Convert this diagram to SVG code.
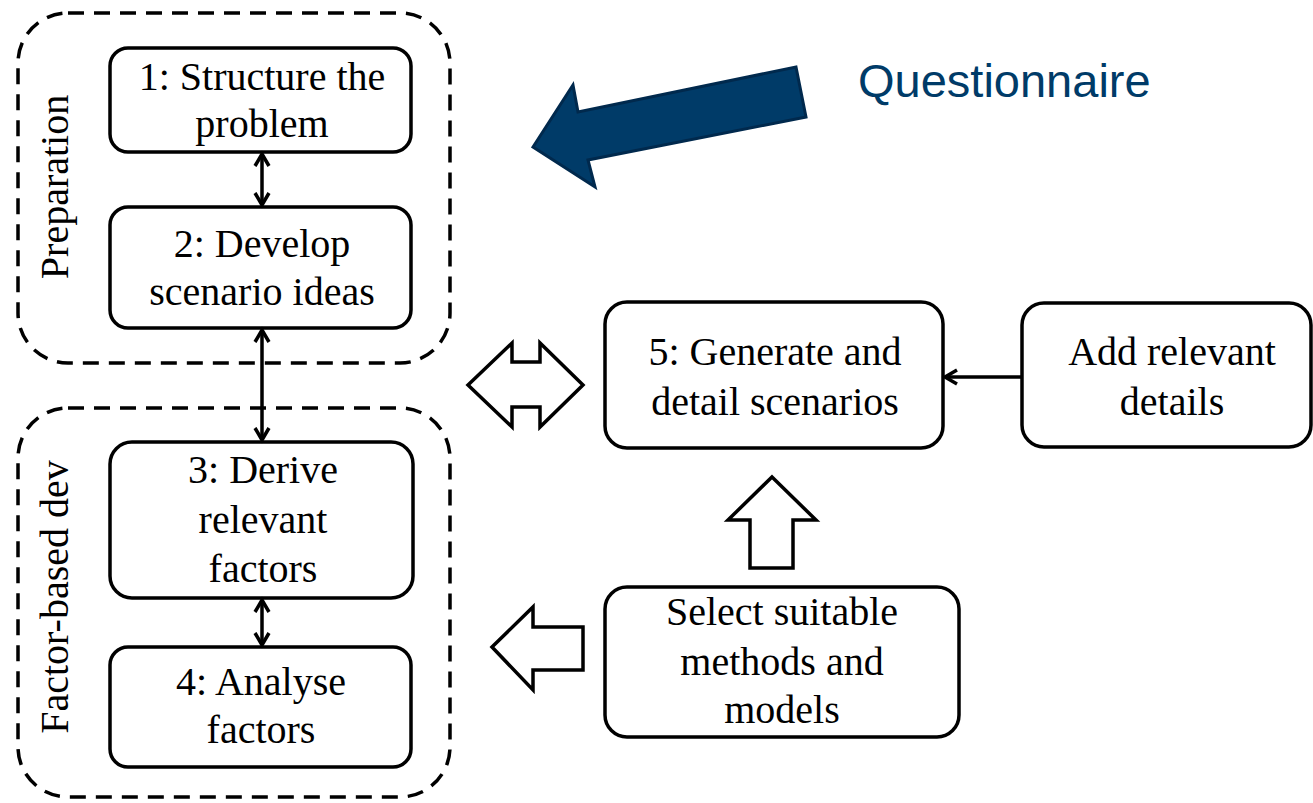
<svg xmlns="http://www.w3.org/2000/svg" width="1313" height="803" viewBox="0 0 1313 803">
<style>
.grp{fill:none;stroke:#000;stroke-width:3.5;stroke-dasharray:16 10}
.box{fill:#fff;stroke:#000;stroke-width:3.5}
.t{font-family:"Liberation Serif","Times New Roman",serif;font-size:40px;fill:#000;text-anchor:middle}
.con{stroke:#000;stroke-width:3.5;fill:none}
.blk{fill:#fff;stroke:#000;stroke-width:3.5;stroke-linejoin:miter}
</style>
<defs>
<marker id="ah" markerUnits="userSpaceOnUse" markerWidth="18" markerHeight="18" refX="14" refY="9" orient="auto-start-reverse">
<path d="M2,2 L14,9 L2,16" fill="none" stroke="#000" stroke-width="3.5"/>
</marker>
</defs>
<rect width="1313" height="803" fill="#fff"/>
<g id="group-preparation">
<rect class="grp" x="18" y="13" width="432" height="350" rx="50"/>
<text class="t" transform="translate(68,187) rotate(-90)">Preparation</text>
</g>
<g id="group-factor">
<rect class="grp" x="18" y="408" width="432" height="389" rx="50"/>
<text class="t" transform="translate(68,597) rotate(-90)">Factor-based dev</text>
</g>
<g id="node1">
<rect class="box" x="110" y="48" width="301" height="104" rx="18"/>
<text class="t" x="262" y="90">1: Structure the</text>
<text class="t" x="262" y="137">problem</text>
</g>
<g id="node2">
<rect class="box" x="110" y="207" width="301" height="121" rx="18"/>
<text class="t" x="262" y="257">2: Develop</text>
<text class="t" x="262" y="305">scenario ideas</text>
</g>
<g id="node3">
<rect class="box" x="110" y="442" width="303" height="156" rx="22"/>
<text class="t" x="263" y="483">3: Derive</text>
<text class="t" x="263" y="533">relevant</text>
<text class="t" x="263" y="582">factors</text>
</g>
<g id="node4">
<rect class="box" x="110" y="647" width="301" height="120" rx="18"/>
<text class="t" x="261" y="695">4: Analyse</text>
<text class="t" x="261" y="743">factors</text>
</g>
<g id="node5">
<rect class="box" x="605" y="302" width="338" height="146" rx="22"/>
<text class="t" x="775" y="365">5: Generate and</text>
<text class="t" x="775" y="415">detail scenarios</text>
</g>
<g id="node-add">
<rect class="box" x="1022" y="303" width="289" height="144" rx="22"/>
<text class="t" x="1172" y="365">Add relevant</text>
<text class="t" x="1172" y="415">details</text>
</g>
<g id="node-select">
<rect class="box" x="605" y="587" width="354" height="150" rx="22"/>
<text class="t" x="782" y="625">Select suitable</text>
<text class="t" x="782" y="675">methods and</text>
<text class="t" x="782" y="723">models</text>
</g>
<g id="questionnaire">
<polygon points="533,147 573,85 578,112 796,67 806,117 588,160 595,187" fill="#003b68" stroke="#00294d" stroke-width="3"/>
<text x="858" y="97" font-family="'Liberation Sans',Arial,sans-serif" font-size="47" fill="#003b68">Questionnaire</text>
</g>
<g id="connectors">
<line class="con" x1="262" y1="154" x2="262" y2="205" marker-start="url(#ah)" marker-end="url(#ah)"/>
<line class="con" x1="262" y1="330" x2="262" y2="440" marker-start="url(#ah)" marker-end="url(#ah)"/>
<line class="con" x1="262" y1="600" x2="262" y2="645" marker-start="url(#ah)" marker-end="url(#ah)"/>
<line class="con" x1="1021" y1="377" x2="945" y2="377" marker-end="url(#ah)"/>
<polygon class="blk" points="468,385 512,343 512,362 540,362 540,343 583,385 540,427 540,407 512,407 512,427"/>
<polygon class="blk" points="772,477 816,520 793,520 793,568 750,568 750,520 728,520"/>
<polygon class="blk" points="492,647 533,607 533,627 583,627 583,670 533,670 533,690"/>
</g>
</svg>
